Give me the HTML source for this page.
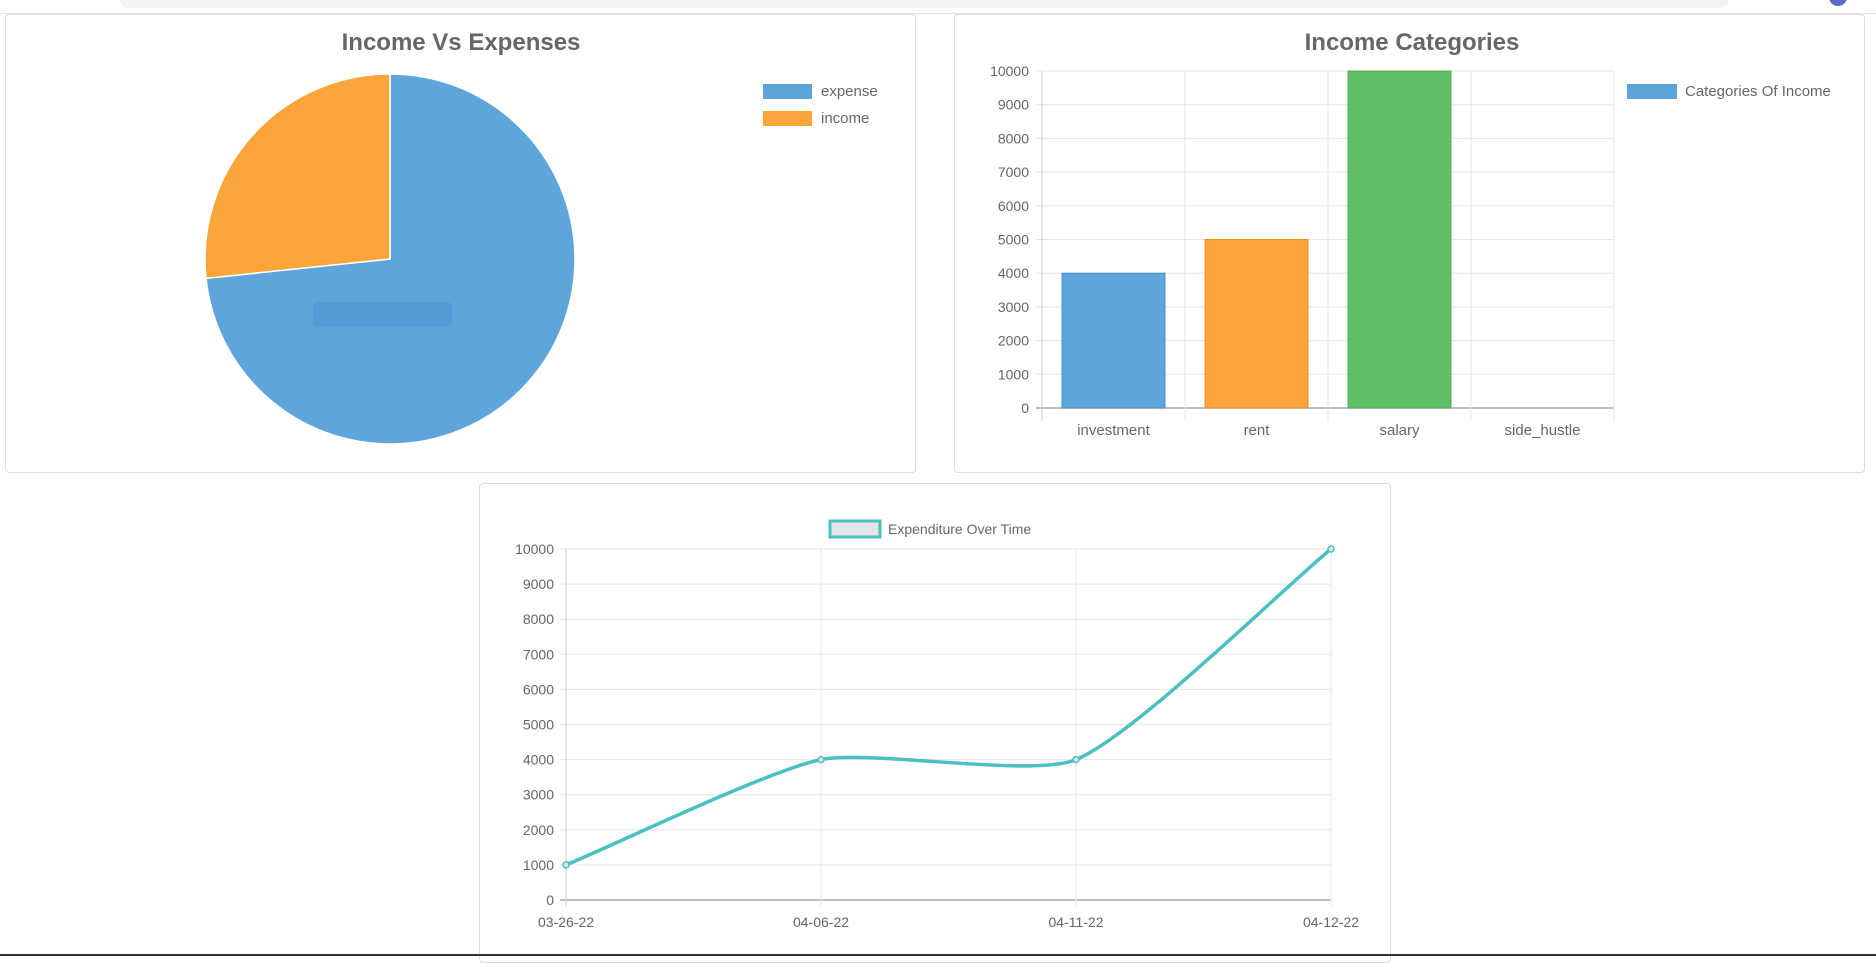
<!DOCTYPE html>
<html><head><meta charset="utf-8"><style>
body{margin:0;width:1876px;height:956px;background:#fff;overflow:hidden;font-family:"Liberation Sans",sans-serif;position:relative}
.card{position:absolute;border:1px solid #dcdcdc;border-radius:4px;background:#fff;box-sizing:border-box}
svg text{font-family:"Liberation Sans",sans-serif;fill:#666}
</style></head><body>
<div style="position:absolute;left:120px;top:-10px;width:1609px;height:18px;background:#f1f3f4;border-radius:9px"></div>
<div style="position:absolute;left:0;top:13px;width:1876px;height:1px;background:#e0e0e0"></div>
<div style="position:absolute;left:1829px;top:-12px;width:18px;height:18px;border-radius:50%;background:#5c6bc0"></div>
<div class="card" style="left:5px;top:14px;width:911px;height:459px"></div>
<div class="card" style="left:954px;top:14px;width:911px;height:459px"></div>
<div class="card" style="left:479px;top:483px;width:912px;height:480px"></div>
<div style="position:absolute;left:0;top:954px;width:1876px;height:2px;background:#3b2b38"></div>
<svg id="s" width="1876" height="956" style="position:absolute;left:0;top:0" xmlns="http://www.w3.org/2000/svg"></svg>
<script>
// pie data
const pieLabels=["expense","income"];
const pieValues=[11000,4000];
const pieColors=["#5da5da","#faa43a"];
// bar data
const barCategories=["investment","rent","salary","side_hustle"];
const barValues=[4000,5000,10000,0];
const barColors=["#5da5da","#faa43a","#60bd68","#f17cb0"];
const barBorders=["#4a90c8","#e8912a","#4caf50","#e06aa0"];
const barTicks=[0,1000,2000,3000,4000,5000,6000,7000,8000,9000,10000];
// line data
const lineLabels=["03-26-22","04-06-22","04-11-22","04-12-22"];
const lineValues=[1000,4000,4000,10000];
const lineTicks=[0,1000,2000,3000,4000,5000,6000,7000,8000,9000,10000];

const NS="http://www.w3.org/2000/svg";
const svg=document.getElementById('s');
function el(tag,attrs,parent){const e=document.createElementNS(NS,tag);for(const k in attrs)e.setAttribute(k,attrs[k]);(parent||svg).appendChild(e);return e;}
function txt(x,y,s,attrs){const t=el('text',Object.assign({x:x,y:y},attrs||{}));t.textContent=s;return t;}

// ---- Pie ----
let t=txt(461,50,"Income Vs Expenses",{"font-size":"24","font-weight":"bold","text-anchor":"middle"});


const cx=390,cy=259,r=185;
const total=pieValues.reduce((a,b)=>a+b,0);
let a0=-Math.PI/2;
pieValues.forEach((v,i)=>{
  const a1=a0+v/total*2*Math.PI;
  const large=(a1-a0)>Math.PI?1:0;
  const p=el('path',{d:`M${cx},${cy} L${cx+r*Math.cos(a0)},${cy+r*Math.sin(a0)} A${r},${r} 0 ${large} 1 ${cx+r*Math.cos(a1)},${cy+r*Math.sin(a1)} Z`,fill:pieColors[i],stroke:"#fff","stroke-width":"1.5"});
  
  
  a0=a1;
});
const tip=el('rect',{x:313,y:302,width:139,height:25,rx:5,fill:"rgba(70,140,200,0.35)"});


pieLabels.forEach((l,i)=>{
  const y=84+i*27;
  const b=el('rect',{x:763,y:y,width:49,height:15,fill:pieColors[i]});
  
  
  const tt=txt(821,y+12,l,{"font-size":"15"});
  
  
});

// ---- Bar ----
t=txt(1412,50,"Income Categories",{"font-size":"24","font-weight":"bold","text-anchor":"middle"});


const bx0=1042,bx1=1614,by0=408,by1=71,bmax=10000;
const bY=v=>by0-(v/bmax)*(by0-by1);
const bw=(bx1-bx0)/barCategories.length;
barTicks.forEach(v=>{
  const y=bY(v);
  const g=el('line',{x1:bx0-6,x2:bx1,y1:y,y2:y,stroke:v===0?"#aaa":"#e5e5e5","stroke-width":v===0?1.5:1});
  
  
  const l=txt(1029,y+5,String(v),{"font-size":"14","text-anchor":"end"});
  
  
});
for(let i=0;i<=barCategories.length;i++){
  const x=bx0+i*bw;
  const g=el('line',{x1:x,x2:x,y1:by1,y2:421,stroke:i===0?"#ccc":"#e5e5e5"});
  
  
}
barCategories.forEach((c,i)=>{
  const x=bx0+i*bw+bw*0.14, w=bw*0.72, y=bY(barValues[i]);
  const b=el('rect',{x:x,y:y,width:w,height:by0-y,fill:barColors[i],stroke:barBorders[i],"stroke-width":1});
  
  
  const l=txt(bx0+i*bw+bw/2,435,c,{"font-size":"15","text-anchor":"middle"});
  
  
});
let lb=el('rect',{x:1627,y:84,width:50,height:15,fill:"#5da5da"});


let lt=txt(1685,96,"Categories Of Income",{"font-size":"15"});



// ---- Line ----
const lx0=566,lx1=1331,ly0=900,ly1=549,lmax=10000;
const lY=v=>ly0-(v/lmax)*(ly0-ly1);
const lX=i=>lx0+i*(lx1-lx0)/(lineLabels.length-1);
lineTicks.forEach(v=>{
  const y=lY(v);
  const g=el('line',{x1:lx0-6,x2:lx1,y1:y,y2:y,stroke:v===0?"#aaa":"#e5e5e5","stroke-width":v===0?1.5:1});
  
  
  const l=txt(554,y+5,String(v),{"font-size":"14","text-anchor":"end"});
  
  
});
lineLabels.forEach((c,i)=>{
  const x=lX(i);
  const g=el('line',{x1:x,x2:x,y1:ly1,y2:ly0+6,stroke:i===0?"#ccc":"#e5e5e5"});
  
  
  const l=txt(x,927,c,{"font-size":"14","text-anchor":"middle"});
  
  
});
const pts=lineValues.map((v,i)=>[lX(i),lY(v)]);
const T=0.2;
const cps=pts.map((p,i)=>{
  const pr=pts[Math.max(i-1,0)],nx=pts[Math.min(i+1,pts.length-1)];
  const d01=Math.hypot(p[0]-pr[0],p[1]-pr[1]),d12=Math.hypot(nx[0]-p[0],nx[1]-p[1]);
  let s01=d01/(d01+d12)||0,s12=d12/(d01+d12)||0;
  const fa=T*s01,fb=T*s12;
  return {p:[p[0]-fa*(nx[0]-pr[0]),p[1]-fa*(nx[1]-pr[1])],n:[p[0]+fb*(nx[0]-pr[0]),p[1]+fb*(nx[1]-pr[1])]};
});
let d=`M${pts[0][0]},${pts[0][1]}`;
for(let i=1;i<pts.length;i++){d+=` C${cps[i-1].n[0]},${cps[i-1].n[1]} ${cps[i].p[0]},${cps[i].p[1]} ${pts[i][0]},${pts[i][1]}`;}
const path=el('path',{d:d,fill:"none",stroke:"#4bc0c0","stroke-width":3.5});


pts.forEach((p,i)=>{
  const c=el('circle',{cx:p[0],cy:p[1],r:3,fill:"#e5e5e5",stroke:"#4bc0c0","stroke-width":1.5});
  
  
});
lb=el('rect',{x:830,y:521,width:50,height:16,fill:"#e5e5e5",stroke:"#4bc0c0","stroke-width":3});


lt=txt(888,534,"Expenditure Over Time",{"font-size":"14"});


</script>
</body></html>
